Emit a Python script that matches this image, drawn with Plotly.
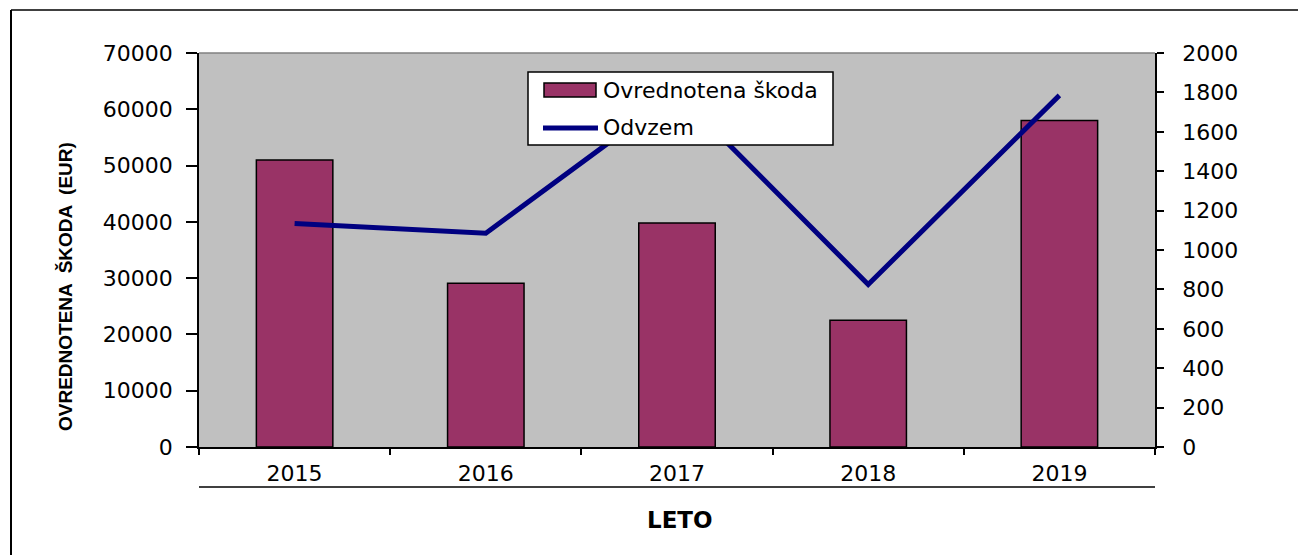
import plotly.graph_objects as go

years = ["2015", "2016", "2017", "2018", "2019"]
skoda = [51000, 29100, 39800, 22500, 58000]
odvzem = [1135, 1085, 1800, 825, 1785]
bar_name = "Ovrednotena škoda"
line_name = "Odvzem"
x_title = "LETO"
y_title = "OVREDNOTENA  ŠKODA  (EUR)"

W, H = 1298, 555
# plot area in page pixel coordinates
L, R, T, B = 199, 1155, 53, 447
pw, ph = R - L, B - T

def px(x):
    return (x - L) / pw

def py(y):
    return (B - y) / ph

BAR_COLOR = "#993366"
LINE_COLOR = "#000080"
FONT = "DejaVu Sans"

fig = go.Figure()
fig.add_trace(go.Bar(x=years, y=skoda, name=bar_name, width=0.4,
                     marker=dict(color=BAR_COLOR, line=dict(color="black", width=1.5)),
                     showlegend=False))
fig.add_trace(go.Scatter(x=years, y=odvzem, name=line_name, mode="lines", yaxis="y2",
                         line=dict(color=LINE_COLOR, width=5), showlegend=False))

shapes = []
shapes.append(dict(type="line", xref="paper", yref="paper", x0=0, x1=1, y0=1, y1=1,
                   line=dict(color="#808080", width=1.5)))
# outer frame: left and top edges
shapes.append(dict(type="line", xref="paper", yref="paper", x0=px(11), x1=px(11),
                   y0=py(10), y1=py(555), line=dict(color="black", width=2)))
shapes.append(dict(type="line", xref="paper", yref="paper", x0=px(11), x1=px(1298),
                   y0=py(10), y1=py(10), line=dict(color="black", width=1.5)))
shapes.append(dict(type="line", xref="paper", yref="paper", x0=0, x1=1, y0=py(487), y1=py(487),
                   line=dict(color="black", width=1.5)))
shapes.append(dict(type="rect", xref="paper", yref="paper", x0=px(528), x1=px(833),
                   y0=py(145), y1=py(72), fillcolor="white", line=dict(color="black", width=1.5)))
shapes.append(dict(type="rect", xref="paper", yref="paper", x0=px(544), x1=px(596),
                   y0=py(97), y1=py(83), fillcolor=BAR_COLOR, line=dict(color="black", width=1.5)))
shapes.append(dict(type="line", xref="paper", yref="paper", x0=px(543), x1=px(598),
                   y0=py(128), y1=py(128), line=dict(color=LINE_COLOR, width=5)))

annotations = [
    dict(text=bar_name, xref="paper", yref="paper", x=px(601), y=py(91), xanchor="left",
         yanchor="middle", showarrow=False, font=dict(family=FONT, size=22, color="black")),
    dict(text=line_name, xref="paper", yref="paper", x=px(601), y=py(127), xanchor="left",
         yanchor="middle", showarrow=False, font=dict(family=FONT, size=22, color="black")),
    dict(text=f"<b>{x_title}</b>", xref="paper", yref="paper", x=px(680), y=py(520),
         xanchor="center", yanchor="middle", showarrow=False,
         font=dict(family=FONT, size=23, color="black")),
    dict(text=f"<b>{y_title}</b>", xref="paper", yref="paper", x=px(65), y=py(287),
         xanchor="center", yanchor="middle", textangle=-90, showarrow=False,
         font=dict(family="Liberation Sans", size=19, color="black")),
]

fig.update_layout(
    width=W, height=H,
    margin=dict(l=L, r=W - R, t=T, b=H - B, pad=0),
    paper_bgcolor="white", plot_bgcolor="#C0C0C0",
    font=dict(family=FONT, size=22, color="black"),
    xaxis=dict(type="category", range=[-0.5, 4.5], tickson="boundaries", ticks="outside",
               ticklen=6, tickcolor="black", tickwidth=1.5, showline=True, linecolor="black",
               linewidth=1.5, showgrid=False, zeroline=False, ticklabelstandoff=6,
               tickfont=dict(family=FONT, size=22)),
    yaxis=dict(range=[0, 70000], dtick=10000, ticks="outside", ticklen=11, tickcolor="black",
               tickwidth=1.5, showline=True, linecolor="black", linewidth=1.5, showgrid=False,
               zeroline=False, tickformat="d", ticklabelstandoff=9,
               tickfont=dict(family=FONT, size=22)),
    yaxis2=dict(range=[0, 2000], dtick=200, overlaying="y", side="right", ticks="outside",
                ticklen=7, tickcolor="black", tickwidth=1.5, showline=True, linecolor="black",
                linewidth=1.5, showgrid=False, zeroline=False, tickformat="d",
                ticklabelstandoff=14, tickfont=dict(family=FONT, size=22)),
    shapes=shapes,
    annotations=annotations,
    showlegend=False,
)

fig.write_html("out.html", config={"displayModeBar": False},
               post_script="document.body.style.margin='0';document.body.style.overflow='hidden';")
